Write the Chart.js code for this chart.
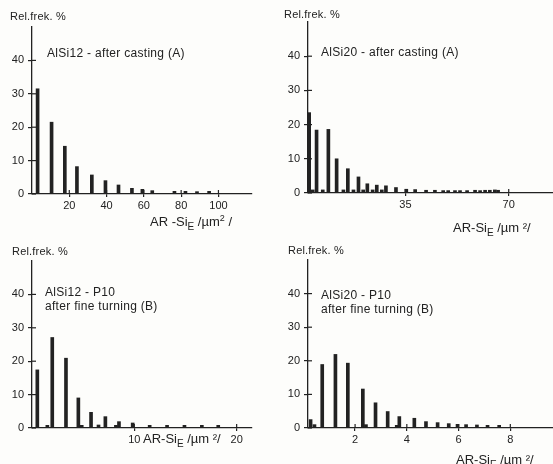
<!DOCTYPE html>
<html>
<head>
<meta charset="utf-8">
<script src="https://cdn.jsdelivr.net/npm/chart.js@4.4.1/dist/chart.umd.min.js"></script>
<style>
  html, body { margin: 0; padding: 0; background: #fdfdfb; }
  #fig { position: relative; width: 553px; height: 464px; overflow: hidden; font-family: "Liberation Sans", Arial, sans-serif; color: #222; }
  .panel { position: absolute; width: 276px; height: 232px; }
  .panel canvas { position: absolute; left: 0; top: 0; }
  .lbl { position: absolute; white-space: nowrap; }
  .ytitle { font-size: 11px; letter-spacing: 0.2px; }
  .note { font-size: 12px; letter-spacing: 0.3px; line-height: 14px; }
  .xtitle { font-size: 13px; }
  .xtitle sub { font-size: 10px; }
  .xtitle sup { font-size: 9px; }
</style>
</head>
<body>
<div id="fig">
  <div class="panel" id="p1" style="left:0;top:0;">
    <canvas id="c1" width="276" height="232"></canvas>
    <div class="lbl ytitle" style="left:10px;top:10px;">Rel.frek. %</div>
    <div class="lbl note" style="left:47px;top:46px;">AlSi12 - after casting (A)</div>
    <div class="lbl xtitle" style="left:150px;top:213px;">AR -Si<sub>E</sub> /µm<sup>2</sup> /</div>
  </div>
  <div class="panel" id="p2" style="left:276px;top:0;width:277px;">
    <canvas id="c2" width="277" height="232"></canvas>
    <div class="lbl ytitle" style="left:8px;top:8px;">Rel.frek. %</div>
    <div class="lbl note" style="left:45px;top:45px;">AlSi20 - after casting (A)</div>
    <div class="lbl xtitle" style="left:177px;top:220px;">AR-Si<sub>E</sub> /µm ²/</div>
  </div>
  <div class="panel" id="p3" style="left:0;top:232px;">
    <canvas id="c3" width="276" height="232"></canvas>
    <div class="lbl ytitle" style="left:12px;top:13px;">Rel.frek. %</div>
    <div class="lbl note" style="left:45px;top:53px;">AlSi12 - P10<br>after fine turning (B)</div>
    <div class="lbl xtitle" style="left:143px;top:199px;">AR-Si<sub>E</sub> /µm ²/</div>
  </div>
  <div class="panel" id="p4" style="left:276px;top:232px;width:277px;">
    <canvas id="c4" width="277" height="232"></canvas>
    <div class="lbl ytitle" style="left:12px;top:12px;">Rel.frek. %</div>
    <div class="lbl note" style="left:45px;top:56px;">AlSi20 - P10<br>after fine turning (B)</div>
    <div class="lbl xtitle" style="left:180px;top:220px;">AR-Si<sub>E</sub> /µm ²/</div>
  </div>
</div>
<script>
// --- data ---
// AlSi12 after casting (A)
const xA12 = [3.0, 10.5, 17.6, 24.1, 32.1, 39.4, 46.4, 53.6, 59.2, 64.5, 76.4, 82.3, 88.5, 95.0];
const yA12 = [31.5, 21.5, 14.3, 8.2, 5.7, 4.0, 2.7, 1.7, 1.4, 1.0, 0.8, 0.8, 0.7, 0.8];
const ticksA12 = [20, 40, 60, 80, 100];

// AlSi20 after casting (A)
const xA20 = [2.4, 3.6, 4.9, 7.0, 8.9, 11.7, 14.0, 15.5, 17.4, 19.1, 20.7, 22.1, 23.9, 25.3, 27.0, 28.4, 31.8,
              35.3, 38.3, 42.0, 45.0, 47.8, 49.5, 51.8, 53.5, 55.9, 58.6, 60.3, 62.0, 63.6, 65.3, 66.4];
const yA20 = [23.5, 0.9, 18.4, 0.9, 18.6, 10.0, 0.9, 7.1, 0.9, 4.7, 0.9, 2.7, 0.9, 2.3, 0.9, 2.1, 1.6,
              1.1, 1.0, 0.8, 0.8, 0.7, 0.7, 0.7, 0.7, 0.7, 0.8, 0.7, 0.8, 0.8, 0.9, 0.8];
const ticksA20 = [35, 70];

// AlSi12 - P10 after fine turning (B)
const xB12 = [0.52, 1.5, 1.98, 3.32, 4.53, 4.86, 5.77, 6.5, 7.17, 8.2, 8.5, 9.84, 11.5, 13.2, 14.9, 16.6, 18.2];
const yB12 = [17.4, 0.8, 27.1, 20.9, 9.0, 0.8, 4.7, 0.9, 3.4, 0.8, 1.9, 1.5, 0.8, 0.8, 0.8, 0.8, 0.8];
const ticksB12 = [10, 20];

// AlSi20 - P10 after fine turning (B)
const xB20 = [0.28, 0.43, 0.73, 1.24, 1.72, 2.30, 2.42, 2.79, 3.26, 3.61, 3.71, 4.29, 4.74, 5.19, 5.62, 5.96, 6.29, 6.71, 7.12, 7.57];
const yB20 = [2.5, 1.0, 18.9, 21.9, 19.3, 11.6, 1.0, 7.5, 4.9, 0.8, 3.4, 2.9, 1.9, 1.6, 1.3, 1.1, 1.0, 0.9, 0.8, 0.8];
const ticksB20 = [2, 4, 6, 8];

const yTicks = [0, 10, 20, 30, 40];

const ink = '#222';
const tickFont = { family: '"Liberation Sans", Arial, sans-serif', size: 11 };

// short tick marks that cross into the plot, like the original
const crossTicks = {
    id: 'crossTicks',
    afterDraw(chart) {
        const ctx = chart.ctx, a = chart.chartArea;
        ctx.save();
        ctx.strokeStyle = ink;
        ctx.lineWidth = 1.2;
        chart.scales.y.ticks.forEach(t => {
            const py = chart.scales.y.getPixelForValue(t.value);
            ctx.beginPath(); ctx.moveTo(a.left, py); ctx.lineTo(a.left + 4, py); ctx.stroke();
        });
        chart.scales.x.ticks.forEach(t => {
            const px = chart.scales.x.getPixelForValue(t.value);
            ctx.beginPath(); ctx.moveTo(px, a.bottom); ctx.lineTo(px, a.bottom - 4); ctx.stroke();
        });
        ctx.restore();
    }
};

function makePanel(id, xs, ys, xTicks, xMin, xMax, box) {
    const canvas = document.getElementById(id);
    return new Chart(canvas, {
        type: 'bar',
        data: {
            datasets: [{
                data: xs.map((x, i) => ({ x: x, y: ys[i] })),
                backgroundColor: ink,
                borderWidth: 0,
                barThickness: 3,
                clip: false
            }]
        },
        options: {
            responsive: false,
            animation: false,
            layout: { padding: { top: box.top, right: canvas.width - box.right, left: 0, bottom: 0 } },
            plugins: { legend: { display: false }, tooltip: { enabled: false } },
            scales: {
                x: {
                    type: 'linear',
                    offset: false,
                    min: xMin,
                    max: xMax,
                    afterBuildTicks: s => { s.ticks = xTicks.map(v => ({ value: v })); },
                    afterFit: s => { s.height = canvas.height - box.bottom; },
                    ticks: { color: ink, font: tickFont, padding: 2, maxRotation: 0, autoSkip: false },
                    grid: { display: true, offset: false, drawOnChartArea: false, drawTicks: true, tickLength: 3, color: ink, lineWidth: 1.2 },
                    border: { display: true, color: ink, width: 1.3 }
                },
                y: {
                    min: 0,
                    max: 50,
                    afterBuildTicks: s => { s.ticks = yTicks.map(v => ({ value: v })); },
                    afterFit: s => { s.width = box.left; },
                    ticks: { color: ink, font: tickFont, padding: 4 },
                    grid: { display: true, drawOnChartArea: false, drawTicks: true, tickLength: 4, color: ink, lineWidth: 1.2 },
                    border: { display: true, color: ink, width: 1.3 }
                }
            }
        },
        plugins: [crossTicks]
    });
}

makePanel('c1', xA12, yA12, ticksA12, 0, 118, { left: 32, top: 27, right: 252, bottom: 194 });
makePanel('c2', xA20, yA20, ticksA20, 2, 85, { left: 32, top: 22, right: 277, bottom: 193 });
makePanel('c3', xB12, yB12, ticksB12, 0, 21.5, { left: 32, top: 29, right: 252, bottom: 196 });
makePanel('c4', xB20, yB20, ticksB20, 0.18, 9.65, { left: 32, top: 28, right: 277, bottom: 196 });
</script>
</body>
</html>
